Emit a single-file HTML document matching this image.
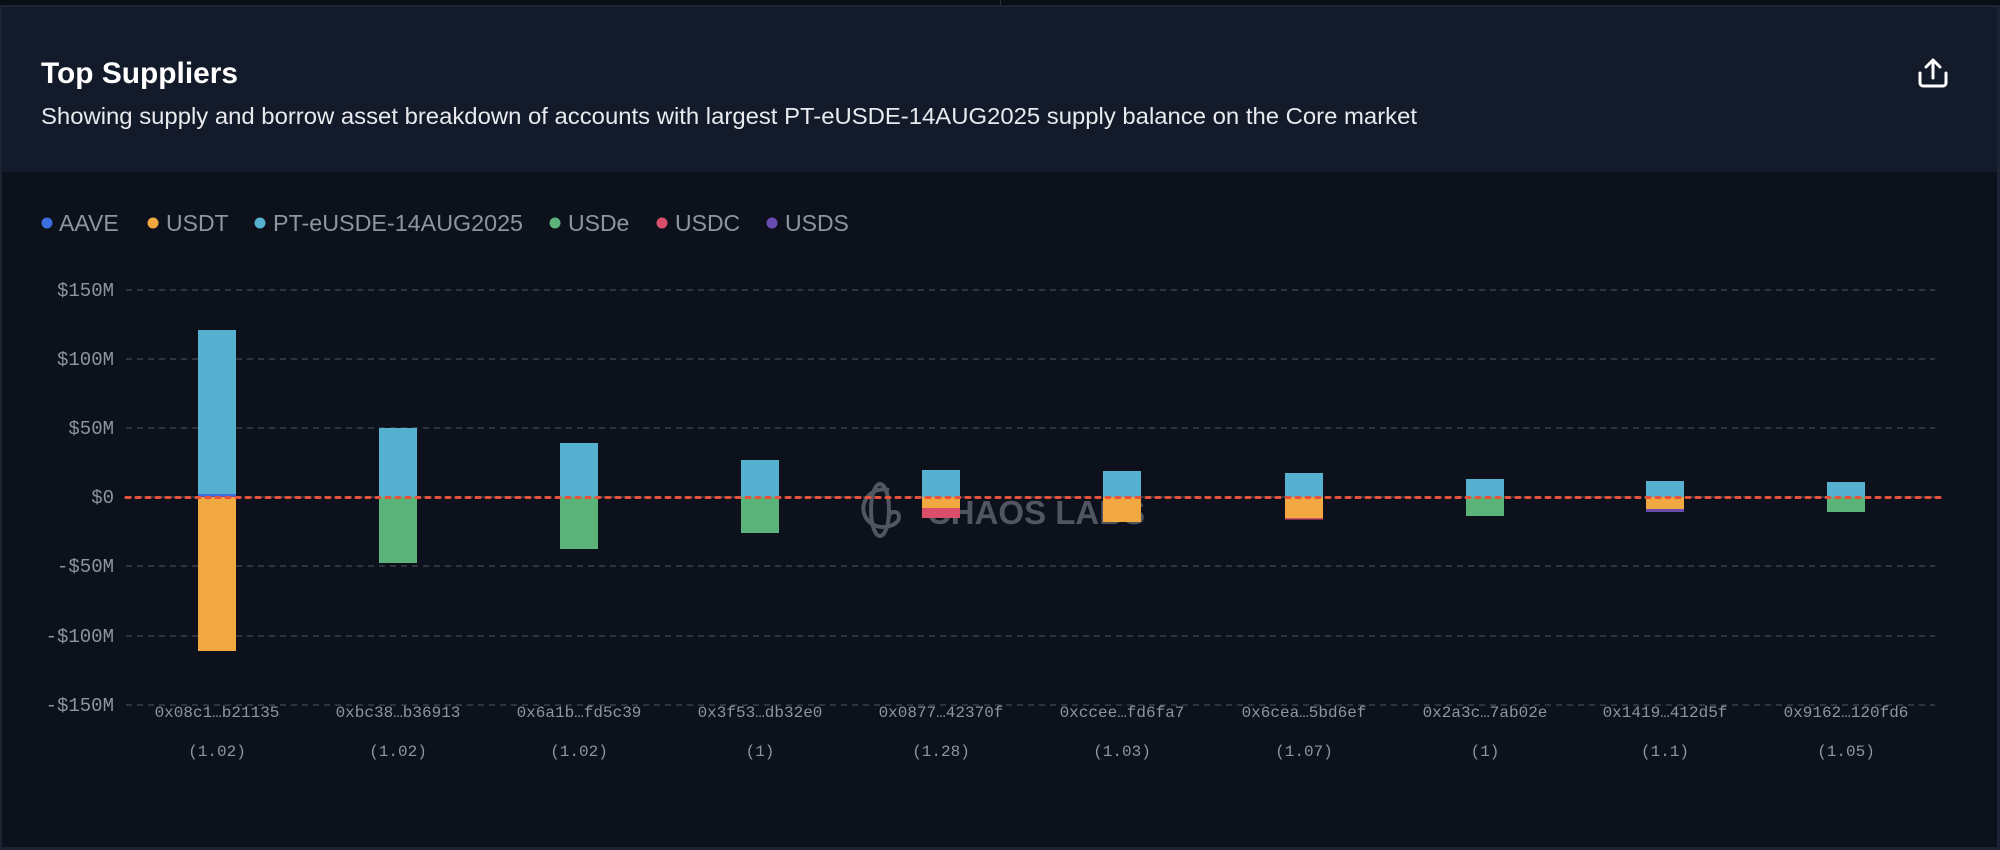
<!DOCTYPE html>
<html><head><meta charset="utf-8"><style>
html,body{margin:0;padding:0;background:#0c111c;}
body{width:2000px;height:850px;overflow:hidden;position:relative;font-family:"Liberation Sans",sans-serif;}
</style></head><body>
<svg width="2000" height="850" xmlns="http://www.w3.org/2000/svg" style="position:absolute;left:0;top:0">
<rect x="0" y="0" width="2000" height="850" fill="#0c111c"/>
<rect x="0" y="0" width="2000" height="6" fill="#0a0e17"/>
<rect x="1000" y="0" width="1" height="6" fill="#2a3140"/>
<rect x="0" y="6" width="2000" height="166" fill="#131a2a"/>
<rect x="0" y="5" width="2000" height="2" fill="#1c2333"/>
<rect x="0" y="6" width="2" height="844" fill="#1c2333"/>
<rect x="1997" y="6" width="3" height="844" fill="#1c2333"/>
<rect x="0" y="847" width="2000" height="3" fill="#1c2333"/>
<text x="41" y="83" font-size="30" fill="#ffffff" font-weight="bold" textLength="197" lengthAdjust="spacingAndGlyphs">Top Suppliers</text>
<text x="41" y="124" font-size="23" fill="#e8eaee" textLength="1376" lengthAdjust="spacingAndGlyphs">Showing supply and borrow asset breakdown of accounts with largest PT-eUSDE-14AUG2025 supply balance on the Core market</text>
<g stroke="#ffffff" stroke-width="3" fill="none" stroke-linecap="round" stroke-linejoin="round">
<path d="M1920 73 v10 a3 3 0 0 0 3 3 h20 a3 3 0 0 0 3 -3 v-10"/>
<path d="M1933 78 v-17 M1926 67 l7 -7 l7 7"/>
</g>
<g font-size="23" fill="#8e95a1">
<circle cx="47" cy="223" r="5.5" fill="#3b6fe0"/><text x="59" y="231">AAVE</text>
<circle cx="153" cy="223" r="5.5" fill="#f2a840"/><text x="166" y="231">USDT</text>
<circle cx="260" cy="223" r="5.5" fill="#56b0cf"/><text x="273" y="231" textLength="250" lengthAdjust="spacingAndGlyphs">PT-eUSDE-14AUG2025</text>
<circle cx="555" cy="223" r="5.5" fill="#5bb37a"/><text x="568" y="231">USDe</text>
<circle cx="662" cy="223" r="5.5" fill="#d94f6a"/><text x="675" y="231">USDC</text>
<circle cx="772" cy="223" r="5.5" fill="#6a4bb0"/><text x="785" y="231">USDS</text>
</g>
<g stroke="#3a3f4a" stroke-width="1.5" stroke-dasharray="6 5">
<line x1="126" x2="1935" y1="290" y2="290"/>
<line x1="126" x2="1935" y1="359" y2="359"/>
<line x1="126" x2="1935" y1="428" y2="428"/>
<line x1="126" x2="1935" y1="497" y2="497"/>
<line x1="126" x2="1935" y1="566" y2="566"/>
<line x1="126" x2="1935" y1="636" y2="636"/>
<line x1="126" x2="1935" y1="705" y2="705"/>
</g>
<g font-family="Liberation Mono,monospace" font-size="19" fill="#8e95a1" text-anchor="end">
<text x="114" y="296">$150M</text>
<text x="114" y="365">$100M</text>
<text x="114" y="434">$50M</text>
<text x="114" y="503">$0</text>
<text x="114" y="572">-$50M</text>
<text x="114" y="642">-$100M</text>
<text x="114" y="711">-$150M</text>
</g>
<g opacity="0.85">
<g stroke="#5d626c" stroke-width="4" fill="none">
<ellipse cx="880" cy="510" rx="9" ry="26"/>
<path d="M889 490 c-25 -5 -35 25 -15 35 c10 5 25 0 25 -8 c0 -8 -12 -6 -10 2"/>
</g>
<text x="927" y="524" font-size="33" fill="#5d626c" font-weight="bold" textLength="218" lengthAdjust="spacingAndGlyphs">CHAOS LABS</text>
</g>
<g>
<rect x="198" y="330" width="38" height="164" fill="#56b0cf"/>
<rect x="198" y="494" width="38" height="2" fill="#3b6fe0"/>
<rect x="198" y="496" width="38" height="1" fill="#6a4bb0"/>
<rect x="198" y="497" width="38" height="154" fill="#f2a840"/>
<rect x="379" y="428" width="38" height="69" fill="#56b0cf"/>
<rect x="379" y="497" width="38" height="66" fill="#5bb37a"/>
<rect x="560" y="443" width="38" height="54" fill="#56b0cf"/>
<rect x="560" y="497" width="38" height="52" fill="#5bb37a"/>
<rect x="741" y="460" width="38" height="37" fill="#56b0cf"/>
<rect x="741" y="497" width="38" height="36" fill="#5bb37a"/>
<rect x="922" y="470" width="38" height="27" fill="#56b0cf"/>
<rect x="922" y="497" width="38" height="11" fill="#f2a840"/>
<rect x="922" y="508" width="38" height="10" fill="#d94f6a"/>
<rect x="1103" y="471" width="38" height="26" fill="#56b0cf"/>
<rect x="1103" y="497" width="38" height="25" fill="#f2a840"/>
<rect x="1285" y="473" width="38" height="24" fill="#56b0cf"/>
<rect x="1285" y="497" width="38" height="21" fill="#f2a840"/>
<rect x="1285" y="518" width="38" height="1.5" fill="#d94f6a"/>
<rect x="1466" y="479" width="38" height="18" fill="#56b0cf"/>
<rect x="1466" y="497" width="38" height="19" fill="#5bb37a"/>
<rect x="1646" y="481" width="38" height="16" fill="#56b0cf"/>
<rect x="1646" y="497" width="38" height="12" fill="#f2a840"/>
<rect x="1646" y="509" width="38" height="3" fill="#6a4bb0"/>
<rect x="1827" y="482" width="38" height="15" fill="#56b0cf"/>
<rect x="1827" y="497" width="38" height="15" fill="#5bb37a"/>
</g>
<line x1="126" x2="1940" y1="497.5" y2="497.5" stroke="#e5533d" stroke-width="3" stroke-dasharray="4 6" stroke-linecap="round"/>
<g font-family="Liberation Mono,monospace" font-size="16" fill="#8e95a1" text-anchor="middle">
<text x="217" y="717">0x08c1…b21135</text><text x="217" y="756">(1.02)</text>
<text x="398" y="717">0xbc38…b36913</text><text x="398" y="756">(1.02)</text>
<text x="579" y="717">0x6a1b…fd5c39</text><text x="579" y="756">(1.02)</text>
<text x="760" y="717">0x3f53…db32e0</text><text x="760" y="756">(1)</text>
<text x="941" y="717">0x0877…42370f</text><text x="941" y="756">(1.28)</text>
<text x="1122" y="717">0xccee…fd6fa7</text><text x="1122" y="756">(1.03)</text>
<text x="1304" y="717">0x6cea…5bd6ef</text><text x="1304" y="756">(1.07)</text>
<text x="1485" y="717">0x2a3c…7ab02e</text><text x="1485" y="756">(1)</text>
<text x="1665" y="717">0x1419…412d5f</text><text x="1665" y="756">(1.1)</text>
<text x="1846" y="717">0x9162…120fd6</text><text x="1846" y="756">(1.05)</text>
</g>
</svg>
</body></html>
